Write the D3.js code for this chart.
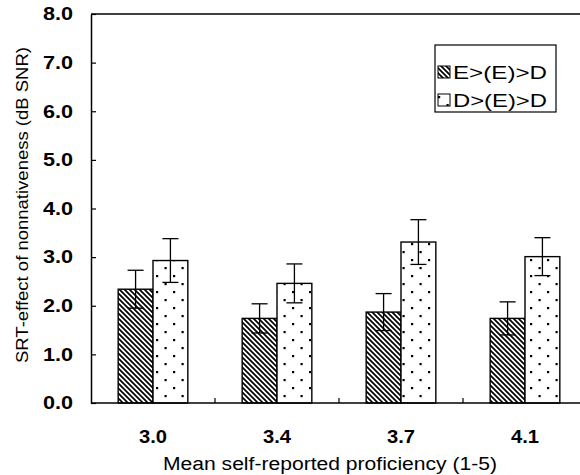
<!DOCTYPE html>
<html>
<head>
<meta charset="utf-8">
<script src="https://cdn.jsdelivr.net/npm/d3@7"></script>
<style>
  html, body { margin: 0; padding: 0; background: #fff; }
  svg { display: block; font-family: "Liberation Sans", Arial, sans-serif; }
</style>
</head>
<body>
<svg id="chart" width="580" height="475"></svg>
<script>
// Proficiency groups and series
const categories = ["3.0", "3.4", "3.7", "4.1"];
const seriesNames = ["E>(E)>D", "D>(E)>D"];
const valuesED = [2.34, 1.74, 1.87, 1.74];
const valuesDD = [2.93, 2.46, 3.31, 3.01];
const errED = [0.39, 0.30, 0.38, 0.34];
const errDD = [0.45, 0.40, 0.46, 0.39];
const yTicks = [0, 1, 2, 3, 4, 5, 6, 7, 8];

const svg = d3.select("#chart");
const margin = { left: 91, top: 14, bottom: 72 };
const plotRight = 587;
const H = 475;
const FONT = "'Liberation Sans', Arial, sans-serif";

// Widen glyphs horizontally by factor k
function widen(sel, k) {
  sel.each(function () {
    const w = this.getComputedTextLength();
    d3.select(this).attr("textLength", w * k).attr("lengthAdjust", "spacingAndGlyphs");
  });
}

const x = d3.scaleBand().domain(categories).range([margin.left, plotRight]).paddingInner(0).paddingOuter(0);
const xs = d3.scaleBand().domain(seriesNames).range([0, x.bandwidth()]).paddingInner(0).paddingOuter(0.78);
const y = d3.scaleLinear().domain([0, 8]).range([H - margin.bottom, margin.top]);

// Fill patterns
const defs = svg.append("defs");
const hatch = defs.append("pattern").attr("id", "hatch").attr("patternUnits", "userSpaceOnUse")
  .attr("width", 5).attr("height", 5);
hatch.append("rect").attr("width", 5).attr("height", 5).attr("fill", "#fff");
hatch.append("path").attr("d", "M-1,-1 L6,6 M-1,4 L1,6 M4,-1 L6,1")
  .attr("stroke", "#000").attr("stroke-width", 1.7);

const dots = defs.append("pattern").attr("id", "dots").attr("patternUnits", "userSpaceOnUse")
  .attr("width", 17).attr("height", 16);
dots.append("rect").attr("width", 17).attr("height", 16).attr("fill", "#fff");
dots.append("rect").attr("x", 3).attr("y", 3).attr("width", 2.2).attr("height", 2.2).attr("fill", "#000");
dots.append("rect").attr("x", 11.5).attr("y", 11).attr("width", 2.2).attr("height", 2.2).attr("fill", "#000");

const series = [
  { name: seriesNames[0], values: valuesED, errs: errED, fill: "url(#hatch)" },
  { name: seriesNames[1], values: valuesDD, errs: errDD, fill: "url(#dots)" }
];

// Bars
series.forEach(s => {
  svg.append("g").selectAll("rect").data(categories).join("rect")
    .attr("x", c => x(c) + xs(s.name))
    .attr("y", (c, i) => y(s.values[i]))
    .attr("width", xs.bandwidth())
    .attr("height", (c, i) => y(0) - y(s.values[i]))
    .attr("fill", s.fill)
    .attr("stroke", "#000").attr("stroke-width", 1.4);
});

// Error bars
series.forEach(s => {
  const g = svg.append("g").attr("stroke", "#000").attr("stroke-width", 1.3);
  categories.forEach((c, i) => {
    const cx = x(c) + xs(s.name) + xs.bandwidth() / 2;
    const hi = y(s.values[i] + s.errs[i]);
    const lo = y(s.values[i] - s.errs[i]);
    g.append("line").attr("x1", cx).attr("x2", cx).attr("y1", hi).attr("y2", lo);
    g.append("line").attr("x1", cx - 8).attr("x2", cx + 8).attr("y1", hi).attr("y2", hi);
    g.append("line").attr("x1", cx - 8).attr("x2", cx + 8).attr("y1", lo).attr("y2", lo);
  });
});

// Y axis with inward ticks
const yAxis = svg.append("g").attr("transform", `translate(${margin.left},0)`)
  .call(d3.axisLeft(y).tickValues(yTicks).tickFormat(d3.format(".1f")).tickSizeInner(-5).tickSizeOuter(0).tickPadding(18));
yAxis.select(".domain").attr("stroke-width", 1.5);
yAxis.selectAll(".tick line").attr("stroke-width", 1.2);
yAxis.selectAll("text").attr("font-size", 18).attr("font-weight", "bold")
  .attr("font-family", FONT).attr("fill", "#000").call(widen, 1.2);

// Top frame line
svg.append("line").attr("x1", margin.left).attr("x2", 580)
  .attr("y1", y(8)).attr("y2", y(8)).attr("stroke", "#000").attr("stroke-width", 1.5);

// X axis: boundary ticks between groups, labels at group centres
const xAxisG = svg.append("g");
xAxisG.append("line").attr("x1", margin.left).attr("x2", 580)
  .attr("y1", y(0)).attr("y2", y(0)).attr("stroke", "#000").attr("stroke-width", 1.5);
xAxisG.selectAll("line.bt").data(categories.slice(1)).join("line").attr("class", "bt")
  .attr("x1", c => x(c)).attr("x2", c => x(c))
  .attr("y1", y(0)).attr("y2", y(0) - 5).attr("stroke", "#000").attr("stroke-width", 1.2);
xAxisG.selectAll("text").data(categories).join("text")
  .attr("x", c => x(c) + x.bandwidth() / 2).attr("y", 443)
  .attr("text-anchor", "middle").attr("font-size", 18).attr("font-weight", "bold")
  .text(c => c).call(widen, 1.12);

// Axis titles
svg.append("text").attr("x", 330).attr("y", 470).attr("text-anchor", "middle")
  .attr("font-size", 18).attr("textLength", 334).attr("lengthAdjust", "spacingAndGlyphs")
  .text("Mean self-reported proficiency (1-5)");
svg.append("text").attr("transform", "translate(28,205) rotate(-90)").attr("text-anchor", "middle")
  .attr("font-size", 17).attr("textLength", 316).attr("lengthAdjust", "spacingAndGlyphs")
  .text("SRT-effect of nonnativeness (dB SNR)");

// Legend
const lg = svg.append("g").attr("transform", "translate(435,45)");
lg.append("rect").attr("width", 121).attr("height", 67).attr("fill", "#fff")
  .attr("stroke", "#000").attr("stroke-width", 1.2);
series.forEach((s, i) => {
  const yy = 27 + i * 28;
  lg.append("rect").attr("x", 3).attr("y", yy - 6).attr("width", 12).attr("height", 12)
    .attr("fill", s.fill).attr("stroke", "#000").attr("stroke-width", 1);
  lg.append("text").attr("x", 18).attr("y", yy + 7).attr("font-size", 19)
    .attr("textLength", 94).attr("lengthAdjust", "spacingAndGlyphs").text(s.name);
});
</script>
</body>
</html>
